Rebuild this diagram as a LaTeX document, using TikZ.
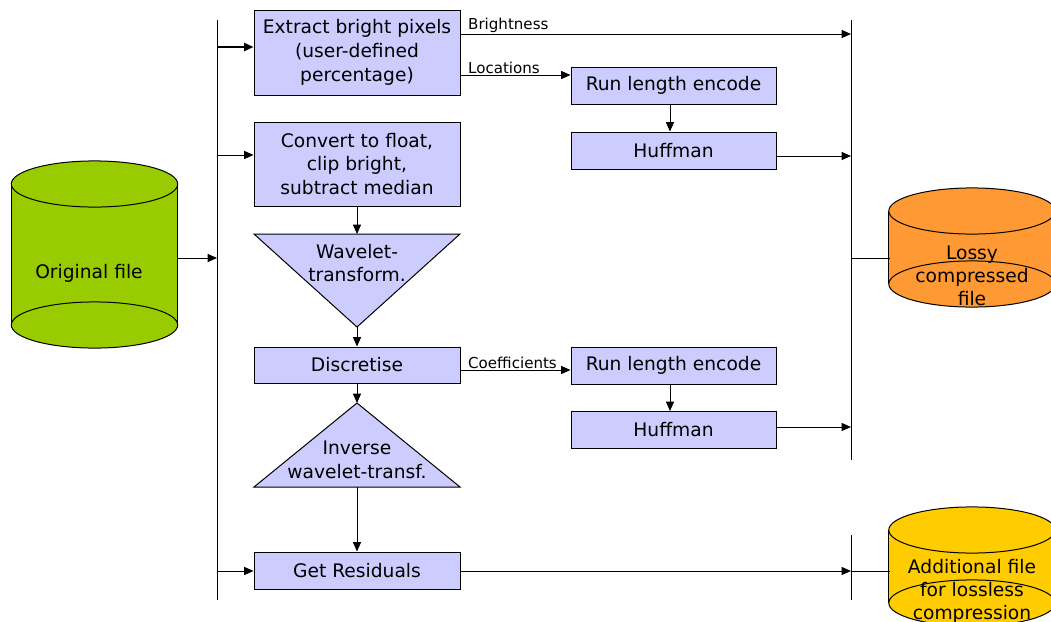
\documentclass[tikz,border=0pt]{standalone}
\usepackage{fontspec}
\setmainfont{DejaVu Sans}
\usetikzlibrary{arrows.meta,calc}
\definecolor{boxfill}{HTML}{CCCCFF}
\definecolor{origfill}{HTML}{99CC00}
\definecolor{lossyfill}{HTML}{FF9933}
\definecolor{addfill}{HTML}{FFCC00}
\tikzset{
  txt/.style={font=\fontsize{14}{17.8}\selectfont, align=center, inner sep=0pt},
  drumtxt/.style={font=\fontsize{14}{17.3}\selectfont, align=center, inner sep=0pt},
  proc/.style={txt, draw, fill=boxfill, line width=0.75pt, minimum width=154.5pt},
  enc/.style={proc, minimum width=153.75pt, minimum height=27.75pt},
  lbl/.style={font=\fontsize{11.3}{13}\selectfont, anchor=south west, inner sep=0.4pt, xshift=5pt},
  arr/.style={-{Triangle[length=7pt,width=6pt]}, line width=0.75pt},
  wire/.style={line width=0.75pt},
  shapeline/.style={line width=0.75pt},
}
% drum: centre x, top y, bottom y, fill colour (radii fixed)
\newcommand\drum[4]{%
  \fill[#4] (#1,#2) ellipse [x radius=62.4pt, y radius=17.3pt];
  \fill[#4] ($(#1,#2)+(-62.4pt,0)$) rectangle ($(#1,#3)+(62.4pt,0)$);
  \fill[#4] (#1,#3) ellipse [x radius=62.4pt, y radius=17.3pt];
  \draw[shapeline] ($(#1,#2)+(-62.4pt,0)$) -- ($(#1,#3)+(-62.4pt,0)$);
  \draw[shapeline] ($(#1,#2)+(62.4pt,0)$) -- ($(#1,#3)+(62.4pt,0)$);
  \draw[shapeline] (#1,#2) ellipse [x radius=62.4pt, y radius=17.3pt];
  \draw[shapeline] (#1,#3) ellipse [x radius=62.4pt, y radius=17.3pt];
}
\begin{document}
\begin{tikzpicture}[x=0.75pt, y=-0.75pt]
\useasboundingbox (0,0) rectangle (1051,622);

% storage drums
\drum{94.5}{184}{325}{origfill}
\drum{972}{211}{284}{lossyfill}
\drum{972}{530}{603}{addfill}
\node[txt] (orig) at (89,273) {Original file};
\node[drumtxt] (lossy) at (972,276) {Lossy\\compressed\\file};
\node[drumtxt] (add) at (972,591) {Additional file\\for lossless\\compression};
\coordinate (origR) at (178,258);
\coordinate (lossyL) at (889.5,258);
\coordinate (addL) at (889.5,571);

% distribution and collection buses
\coordinate (busLtop) at (217,20);
\coordinate (busLbot) at (217,600);
\coordinate (busRtop) at (851,20);
\coordinate (busRbot) at (851,460);
\coordinate (barTop) at (851,535);
\coordinate (barBot) at (851,600);
\draw[wire] (busLtop) -- (busLbot);
\draw[wire] (busRtop) -- (busRbot);
\draw[wire] (barTop) -- (barBot);

% processing steps
\node[proc, minimum height=63.75pt] (ext) at (357,52.5) {Extract bright pixels\\(user-defined\\percentage)};
\node[proc, minimum height=63pt] (conv) at (357,164) {Convert to float,\\clip bright,\\subtract median};
\node[proc, minimum height=27pt] (disc) at (357,365) {Discretise};
\node[proc, minimum height=27.75pt] (res) at (357,570.5) {Get Residuals};
\node[enc] (rle1) at (673.5,85.5) {Run length encode};
\node[enc] (huf1) at (673.5,150.5) {Huffman};
\node[enc] (rle2) at (673.5,365.5) {Run length encode};
\node[enc] (huf2) at (673.5,430) {Huffman};

% transform triangles
\coordinate (wavTL) at (254,234);
\coordinate (wavTR) at (460,234);
\coordinate (wavTip) at (357,327);
\coordinate (wavTop) at (357,234);
\draw[shapeline, fill=boxfill] (wavTL) -- (wavTR) -- (wavTip) -- cycle;
\node[txt] (wav) at (357,263) {Wavelet-\\transform.};
\coordinate (invTip) at (357,403);
\coordinate (invBL) at (254,487);
\coordinate (invBR) at (460,487);
\coordinate (invBot) at (357,487);
\draw[shapeline, fill=boxfill] (invBL) -- (invBR) -- (invTip) -- cycle;
\node[txt] (inv) at (357,460) {Inverse\\wavelet-transf.};

% inputs from the left bus
\draw[arr] (origR) -- (busLtop |- origR);
\draw[arr, line width=1.5pt] (busLtop |- 0,47) -- (ext.west |- 0,47);
\draw[arr] (busLtop |- 0,155) -- (conv.west |- 0,155);
\draw[arr] (busLtop |- 0,571) -- (res.west |- 0,571);

% main chain
\draw[arr] (conv.south) -- (wavTop);
\draw[arr] (wavTip) -- (disc.north);
\draw[arr] (disc.south) -- (invTip);
\draw[arr] (invBot) -- (res.north);

% bright pixel branch
\draw[arr] (ext.east |- 0,34) -- node[lbl, pos=0] (lb) {Brightness} (busRtop |- 0,34);
\draw[arr] (ext.east |- 0,75) -- node[lbl, pos=0] (ll) {Locations} (rle1.west |- 0,75);
\draw[arr] (rle1.south -| 670,0) -- (huf1.north -| 670,0);
\draw[arr] (huf1.east |- 0,156) -- (busRtop |- 0,156);

% coefficient branch
\draw[arr] (disc.east |- 0,370) -- node[lbl, pos=0] (lc) {Coefficients} (rle2.west |- 0,370);
\draw[arr] (rle2.south -| 670,0) -- (huf2.north -| 670,0);
\draw[arr] (huf2.east |- 0,427) -- (busRtop |- 0,427);

% outputs
\draw[wire] (busRtop |- lossyL) -- (lossyL);
\draw[arr] (res.east |- 0,571) -- (barTop |- addL);
\draw[wire] (barTop |- addL) -- (addL);
\end{tikzpicture}
\end{document}
